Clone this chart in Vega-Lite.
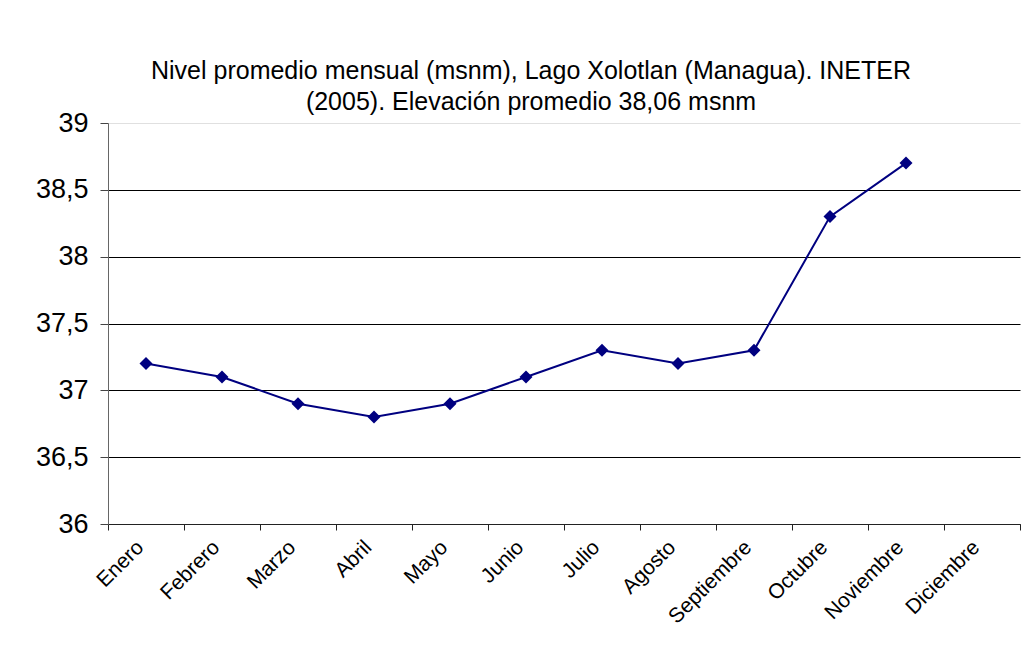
{
  "$schema": "https://vega.github.io/schema/vega-lite/v6.json",
  "autosize": "none",
  "width": 912,
  "height": 401,
  "padding": {"left": 108, "top": 123, "right": 4, "bottom": 135},
  "background": "white",
  "title": {
    "text": ["Nivel promedio mensual (msnm), Lago Xolotlan (Managua). INETER", "(2005).  Elevación promedio 38,06 msnm"],
    "font": "Liberation Sans",
    "fontSize": 25,
    "fontWeight": "normal",
    "color": "black",
    "lineHeight": 31,
    "anchor": "middle",
    "dx": -33,
    "offset": -6
  },
  "config": {
    "view": {"stroke": null},
    "font": "Liberation Sans"
  },
  "data": {
    "values": [
      {"mes": "Enero", "nivel": 37.2},
      {"mes": "Febrero", "nivel": 37.1},
      {"mes": "Marzo", "nivel": 36.9},
      {"mes": "Abril", "nivel": 36.8},
      {"mes": "Mayo", "nivel": 36.9},
      {"mes": "Junio", "nivel": 37.1},
      {"mes": "Julio", "nivel": 37.3},
      {"mes": "Agosto", "nivel": 37.2},
      {"mes": "Septiembre", "nivel": 37.3},
      {"mes": "Octubre", "nivel": 38.3},
      {"mes": "Noviembre", "nivel": 38.7}
    ]
  },
  "encoding": {
    "x": {
      "field": "mes",
      "type": "nominal",
      "sort": null,
      "scale": {
        "type": "band",
        "domain": ["Enero", "Febrero", "Marzo", "Abril", "Mayo", "Junio", "Julio", "Agosto", "Septiembre", "Octubre", "Noviembre", "Diciembre"],
        "paddingInner": 0,
        "paddingOuter": 0
      },
      "axis": {
        "title": null,
        "tickBand": "extent",
        "labelAngle": -45,
        "labelFontSize": 21,
        "labelColor": "black",
        "labelPadding": 14,
        "labelOffset": -6,
        "labelAlign": "right",
        "labelBaseline": "middle",
        "tickSize": 6,
        "tickColor": "#222",
        "domainColor": "#222",
        "grid": false
      }
    },
    "y": {
      "field": "nivel",
      "type": "quantitative",
      "scale": {"domain": [36, 39], "zero": false, "nice": false},
      "axis": {
        "title": null,
        "values": [36, 36.5, 37, 37.5, 38, 38.5, 39],
        "format": ".1~f",
        "labelExpr": "replace(datum.label, '.', ',')",
        "labelFontSize": 27,
        "labelColor": "black",
        "labelPadding": 12,
        "tickSize": 8,
        "tickColor": "#444",
        "domainColor": "#666",
        "grid": true,
        "gridColor": {"condition": {"test": "datum.value == 39", "value": "#e0e0e0"}, "value": "black"},
        "gridWidth": 1
      }
    }
  },
  "layer": [
    {"mark": {"type": "line", "color": "#000080", "strokeWidth": 2}},
    {"mark": {"type": "point", "shape": "diamond", "filled": true, "color": "#000080", "size": 170, "opacity": 1}}
  ]
}
